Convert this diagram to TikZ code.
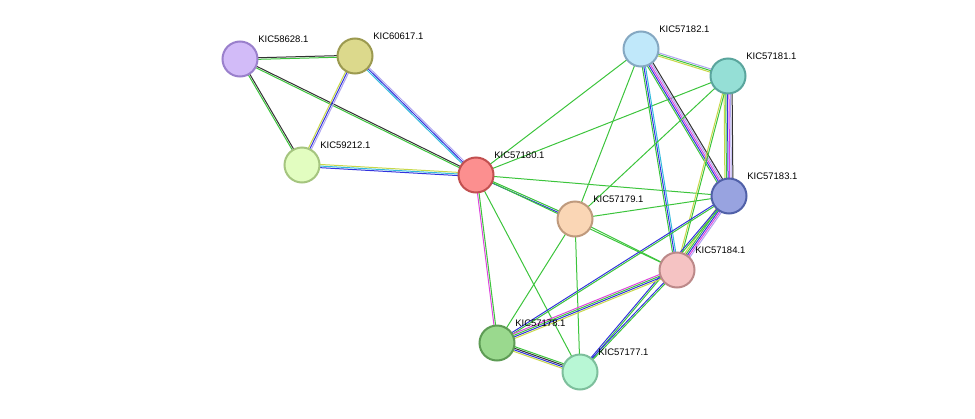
\documentclass[tikz,border=0pt]{standalone}
\usepackage{fontspec}
\setmainfont{Liberation Sans}
\usetikzlibrary{calc}
\definecolor{tm}{HTML}{C8D84A}
\definecolor{nb}{HTML}{3CC43C}
\definecolor{co}{HTML}{3333DD}
\definecolor{hm}{HTML}{B0A6F0}
\definecolor{db}{HTML}{33BBDD}
\definecolor{ex}{HTML}{DD44DD}
\definecolor{cx}{HTML}{333333}
\tikzset{
  prot/.style={circle, minimum size=35pt, line width=2pt, inner sep=0pt},
  lbl/.style={font=\fontsize{9.5}{11}\selectfont, inner sep=0pt, anchor=south west, xshift=5pt, yshift=3pt},
}
% edge with parallel coloured lines: {from}{to}{colours}{count}
\newcommand{\ppiedge}[4]{%
  \foreach \c [count=\i] in {#3} {
    \pgfmathsetmacro{\off}{(\i-1-(#4-1)/2)*1.6}
    \draw[\c, line width=1pt] ($(#1)!\off pt!90:(#2)$) -- ($(#2)!\off pt!-90:(#1)$);
  }}
\begin{document}
\begin{tikzpicture}[x=1pt,y=-1pt]
\useasboundingbox (0,0) rectangle (975,418);
% node centres
\coordinate (p58628) at (240,59);
\coordinate (p60617) at (355,56);
\coordinate (p59212) at (302,165);
\coordinate (p57180) at (476,175);
\coordinate (p57182) at (641,49);
\coordinate (p57181) at (728,76);
\coordinate (p57183) at (729,196);
\coordinate (p57179) at (575,219);
\coordinate (p57184) at (677,270);
\coordinate (p57178) at (497,343);
\coordinate (p57177) at (580,372);
% edges
\ppiedge{p58628}{p60617}{nb,cx}{2}
\ppiedge{p58628}{p59212}{nb,cx}{2}
\ppiedge{p58628}{p57180}{nb,cx}{2}
\ppiedge{p60617}{p59212}{tm,co,hm}{3}
\ppiedge{p60617}{p57180}{db,co,hm}{3}
\ppiedge{p59212}{p57180}{co,db,tm}{3}
\ppiedge{p57180}{p57182}{nb}{1}
\ppiedge{p57180}{p57181}{nb}{1}
\ppiedge{p57180}{p57183}{nb}{1}
\ppiedge{p57180}{p57179}{co,nb}{2}
\ppiedge{p57180}{p57184}{nb}{1}
\ppiedge{p57180}{p57178}{ex,nb}{2}
\ppiedge{p57180}{p57177}{nb}{1}
\ppiedge{p57182}{p57181}{tm,nb,hm}{3}
\ppiedge{p57182}{p57183}{nb,co,ex,hm,cx}{5}
\ppiedge{p57182}{p57184}{nb,co,db}{3}
\ppiedge{p57182}{p57179}{nb}{1}
\ppiedge{p57181}{p57183}{tm,nb,co,ex,hm,cx}{6}
\ppiedge{p57181}{p57184}{tm,nb}{2}
\ppiedge{p57181}{p57179}{nb}{1}
\ppiedge{p57183}{p57179}{nb}{1}
\ppiedge{p57183}{p57184}{tm,nb,co,ex,hm}{5}
\ppiedge{p57183}{p57178}{co,nb}{2}
\ppiedge{p57183}{p57177}{co,nb}{2}
\ppiedge{p57179}{p57184}{nb}{1}
\ppiedge{p57179}{p57178}{nb}{1}
\ppiedge{p57179}{p57177}{nb}{1}
\ppiedge{p57184}{p57178}{ex,nb,co,tm}{4}
\ppiedge{p57184}{p57177}{co,nb}{2}
\ppiedge{p57178}{p57177}{tm,co,cx,nb}{4}
% proteins
\node[prot, fill={rgb,255:red,210;green,187;blue,248}, draw={rgb,255:red,154;green,128;blue,204}] (n58628) at (p58628) {};
\node[lbl] at (n58628.north east) {KIC58628.1};
\node[prot, fill={rgb,255:red,220;green,217;blue,140}, draw={rgb,255:red,156;green,154;blue,80}] (n60617) at (p60617) {};
\node[lbl] at (n60617.north east) {KIC60617.1};
\node[prot, fill={rgb,255:red,226;green,253;blue,192}, draw={rgb,255:red,165;green,197;blue,127}] (n59212) at (p59212) {};
\node[lbl] at (n59212.north east) {KIC59212.1};
\node[prot, fill={rgb,255:red,252;green,143;blue,143}, draw={rgb,255:red,194;green,80;blue,80}] (n57180) at (p57180) {};
\node[lbl] at (n57180.north east) {KIC57180.1};
\node[prot, fill={rgb,255:red,192;green,232;blue,250}, draw={rgb,255:red,133;green,168;blue,194}] (n57182) at (p57182) {};
\node[lbl] at (n57182.north east) {KIC57182.1};
\node[prot, fill={rgb,255:red,149;green,223;blue,214}, draw={rgb,255:red,90;green,165;blue,157}] (n57181) at (p57181) {};
\node[lbl] at (n57181.north east) {KIC57181.1};
\node[prot, fill={rgb,255:red,152;green,163;blue,224}, draw={rgb,255:red,80;green,96;blue,168}] (n57183) at (p57183) {};
\node[lbl] at (n57183.north east) {KIC57183.1};
\node[prot, fill={rgb,255:red,250;green,214;blue,181}, draw={rgb,255:red,191;green,154;blue,125}] (n57179) at (p57179) {};
\node[lbl] at (n57179.north east) {KIC57179.1};
\node[prot, fill={rgb,255:red,245;green,195;blue,195}, draw={rgb,255:red,188;green,137;blue,137}] (n57184) at (p57184) {};
\node[lbl] at (n57184.north east) {KIC57184.1};
\node[prot, fill={rgb,255:red,154;green,217;blue,142}, draw={rgb,255:red,94;green,156;blue,85}] (n57178) at (p57178) {};
\node[lbl] at (n57178.north east) {KIC57178.1};
\node[prot, fill={rgb,255:red,184;green,247;blue,213}, draw={rgb,255:red,125;green,191;blue,156}] (n57177) at (p57177) {};
\node[lbl] at (n57177.north east) {KIC57177.1};
\end{tikzpicture}
\end{document}
